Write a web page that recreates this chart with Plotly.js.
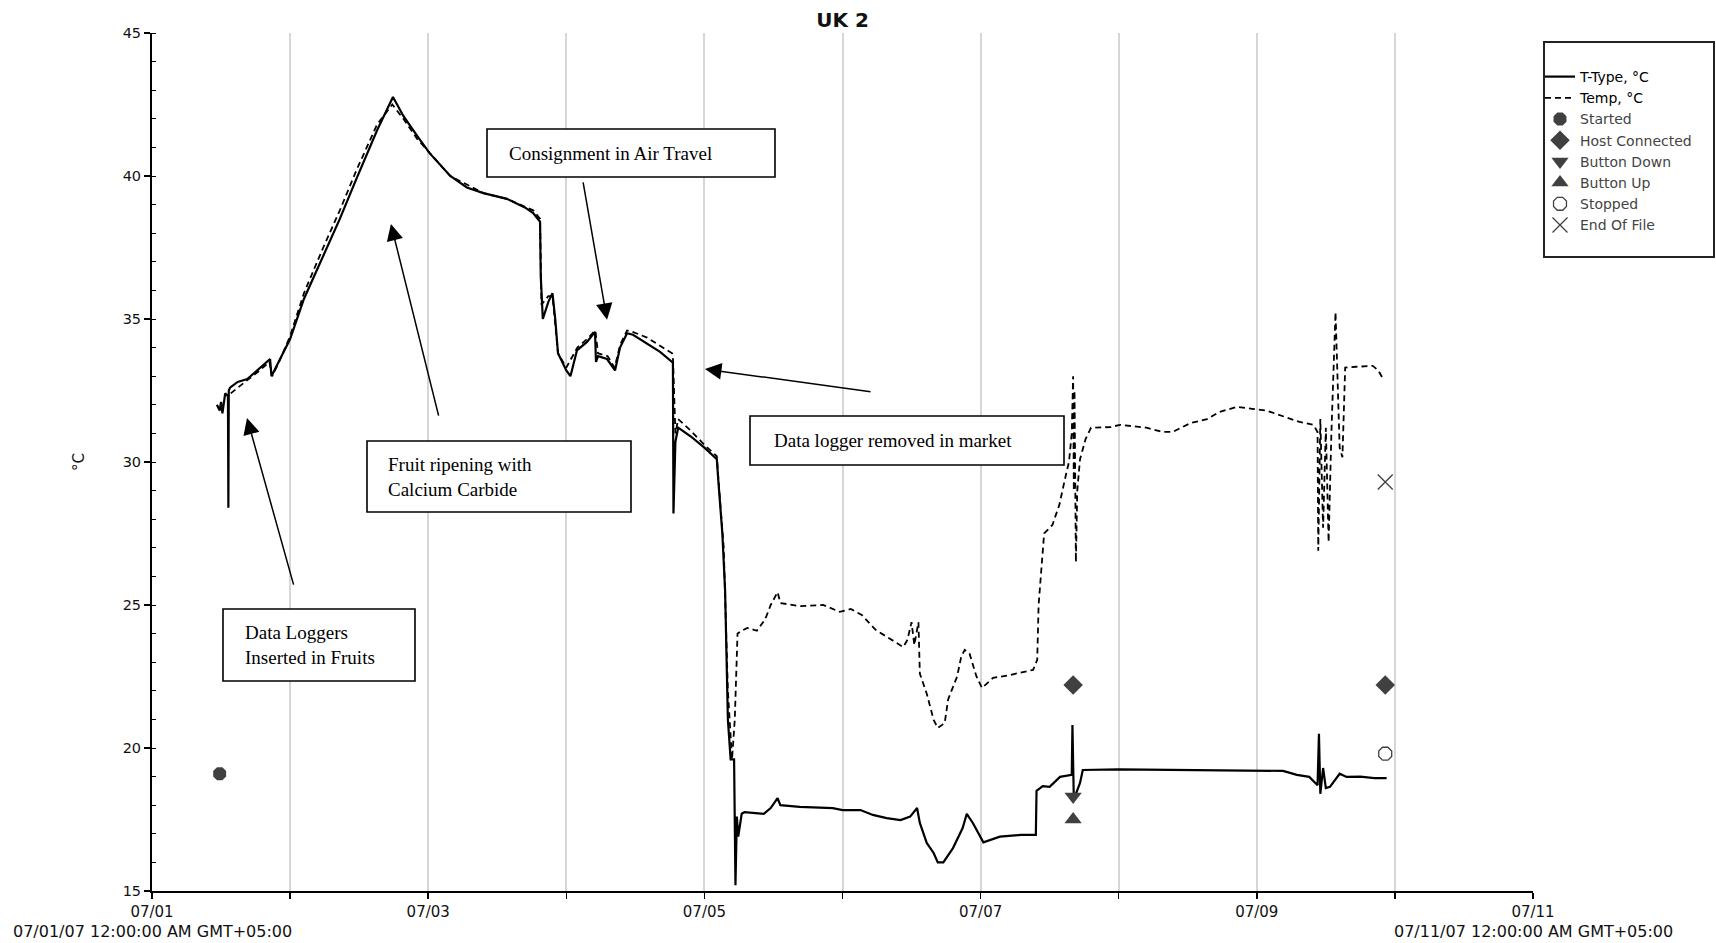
<!DOCTYPE html>
<html>
<head>
<meta charset="utf-8">
<script src="https://cdn.plot.ly/plotly-3.0.1.min.js"></script>
<style>
html,body{margin:0;padding:0;background:#fff;}
#chart{width:1716px;height:943px;}
</style>
</head>
<body>
<div id="chart"></div>
<script>
// ---- data (time in days after 07/01/07 00:00, values in °C) ----
const tTypeDays = [0.47,0.49,0.50,0.51,0.53,0.55,0.553,0.556,0.565,0.62,0.69,0.78,0.855,0.865,0.875,0.93,1.00,1.10,1.24,1.36,1.48,1.63,1.745,1.82,1.92,2.01,2.16,2.28,2.40,2.57,2.70,2.76,2.81,2.815,2.83,2.87,2.90,2.92,2.94,3.00,3.03,3.077,3.15,3.208,3.215,3.23,3.295,3.353,3.389,3.44,3.483,3.585,3.679,3.766,3.772,3.776,3.79,3.81,3.90,4.00,4.09,4.10,4.13,4.15,4.17,4.19,4.215,4.225,4.235,4.245,4.27,4.29,4.43,4.48,4.53,4.55,4.69,4.93,5.00,5.13,5.22,5.32,5.42,5.49,5.54,5.56,5.61,5.66,5.69,5.73,5.80,5.87,5.90,5.945,5.995,6.02,6.14,6.29,6.40,6.405,6.45,6.50,6.575,6.66,6.665,6.675,6.72,6.74,7.00,7.50,8.00,8.19,8.29,8.38,8.44,8.45,8.46,8.48,8.50,8.53,8.60,8.65,8.75,8.85,8.94];
const tTypeVals = [32.0,31.8,32.1,31.7,32.4,32.3,28.4,32.5,32.6,32.8,32.9,33.3,33.6,33.0,33.1,33.6,34.3,35.7,37.2,38.5,39.9,41.6,42.76,42.1,41.4,40.8,40.0,39.6,39.4,39.2,38.9,38.7,38.4,36.5,35.0,35.6,35.9,35.0,33.8,33.2,33.0,33.9,34.2,34.55,33.5,33.7,33.6,33.2,34.0,34.5,34.45,34.15,33.85,33.5,33.46,28.2,30.7,31.2,30.9,30.5,30.1,29.4,27.5,25.5,21.0,19.6,19.6,15.2,17.6,16.9,17.7,17.76,17.7,17.9,18.25,18.0,17.94,17.9,17.83,17.83,17.66,17.55,17.48,17.6,17.9,17.38,16.68,16.33,16.0,16.0,16.5,17.2,17.7,17.37,16.9,16.7,16.9,16.96,16.96,18.5,18.67,18.64,18.99,19.06,20.8,18.2,18.78,19.23,19.25,19.22,19.2,19.2,19.06,18.99,18.7,20.5,18.4,19.3,18.6,18.64,19.1,18.99,19.0,18.95,18.95];

const tempDays = [0.57,0.62,0.70,0.78,0.85,0.87,0.92,1.00,1.10,1.24,1.36,1.48,1.63,1.74,1.82,1.92,2.01,2.16,2.40,2.57,2.76,2.81,2.82,2.87,2.90,2.94,3.00,3.08,3.15,3.21,3.23,3.30,3.35,3.39,3.44,3.48,3.585,3.68,3.766,3.773,3.79,3.81,3.90,4.00,4.09,4.10,4.14,4.17,4.20,4.22,4.24,4.27,4.31,4.38,4.44,4.48,4.53,4.55,4.69,4.86,4.98,5.06,5.14,5.24,5.36,5.44,5.47,5.50,5.52,5.55,5.56,5.61,5.66,5.69,5.74,5.765,5.83,5.86,5.885,5.92,5.97,6.01,6.09,6.21,6.38,6.41,6.42,6.44,6.46,6.52,6.57,6.62,6.64,6.66,6.67,6.675,6.68,6.69,6.70,6.72,6.76,6.80,6.94,7.01,7.20,7.32,7.39,7.52,7.64,7.73,7.86,7.98,8.07,8.19,8.31,8.41,8.44,8.445,8.46,8.48,8.50,8.52,8.54,8.57,8.60,8.62,8.64,8.72,8.84,8.88,8.91];
const tempVals = [32.4,32.6,32.9,33.2,33.5,33.0,33.5,34.4,35.9,37.5,38.8,40.2,41.8,42.5,42.0,41.3,40.8,40.0,39.4,39.2,38.8,38.5,35.5,35.8,35.8,33.8,33.3,34.0,34.3,34.6,33.8,33.7,33.3,34.1,34.6,34.55,34.35,34.05,33.8,33.57,31.0,31.5,31.1,30.6,30.2,29.5,27.0,22.0,19.6,21.0,24.0,24.1,24.2,24.1,24.5,25.0,25.45,25.07,24.96,25.0,24.76,24.86,24.65,24.13,23.78,23.53,23.78,24.4,23.6,24.4,22.6,21.9,20.98,20.7,20.87,21.7,22.5,23.2,23.43,23.3,22.5,22.1,22.45,22.55,22.73,23.08,25.0,26.4,27.5,27.8,28.5,29.6,30.0,31.0,33.0,29.0,32.5,26.5,29.0,30.1,30.8,31.2,31.22,31.3,31.2,31.05,31.05,31.36,31.5,31.75,31.93,31.85,31.8,31.6,31.4,31.3,31.05,26.9,31.5,27.7,31.2,27.2,31.0,35.24,30.5,30.17,33.3,33.33,33.36,33.2,32.94];

const startedDay = [0.49],  startedVal = [19.1];
const hostDays = [6.67, 8.93], hostVals = [22.2, 22.2];
const btnDownDay = [6.67], btnDownVal = [18.3];
const btnUpDay = [6.67],   btnUpVal = [17.5];
const stoppedDay = [8.93], stoppedVal = [19.8];
const eofDay = [8.93],     eofVal = [29.3];

const seriesNames = ['T-Type, °C','Temp, °C','Started','Host Connected','Button Down','Button Up','Stopped','End Of File'];
const tickDays = [0,2,4,6,8,10];
const tickLabels = ['07/01','07/03','07/05','07/07','07/09','07/11'];
const chartTitle = 'UK 2';
const rangeLabel = ['07/01/07 12:00:00 AM GMT+05:00','07/11/07 12:00:00 AM GMT+05:00'];
const noteTexts = ['Data Loggers<br>Inserted in Fruits','Fruit ripening with<br>Calcium Carbide','Consignment in Air Travel','Data logger removed in market'];

// ---- helpers ----
const T0 = Date.UTC(2007,6,1);
function toDate(d){ return new Date(T0 + Math.round(d*86400000)).toISOString().slice(0,19).replace('T',' '); }
const dates = a => a.map(toDate);
// plot area in page pixels
const PL=152, PR=1533, PT=33, PB=891;
const px = x => (x-PL)/(PR-PL);
const py = y => (PB-y)/(PB-PT);
const MK = '#404040';

const traces = [
  {x:dates(tTypeDays), y:tTypeVals, mode:'lines', name:'<span style="color:#000">'+seriesNames[0]+'</span>', line:{color:'#000',width:2.2}},
  {x:dates(tempDays), y:tempVals, mode:'lines', name:'<span style="color:#000">'+seriesNames[1]+'</span>', line:{color:'#000',width:1.8,dash:'6px,4px'}},
  {x:dates(startedDay), y:startedVal, mode:'markers', name:seriesNames[2], marker:{symbol:'octagon',size:14,color:MK}},
  {x:dates(hostDays), y:hostVals, mode:'markers', name:seriesNames[3], marker:{symbol:'diamond',size:15,color:MK}},
  {x:dates(btnDownDay), y:btnDownVal, mode:'markers', name:seriesNames[4], marker:{symbol:'triangle-down',size:15,color:MK}},
  {x:dates(btnUpDay), y:btnUpVal, mode:'markers', name:seriesNames[5], marker:{symbol:'triangle-up',size:15,color:MK}},
  {x:dates(stoppedDay), y:stoppedVal, mode:'markers', name:seriesNames[6], marker:{symbol:'octagon-open',size:14,color:MK,line:{width:1.3,color:MK}}},
  {x:dates(eofDay), y:eofVal, mode:'markers', name:seriesNames[7], marker:{symbol:'x-thin-open',size:15,color:MK,line:{width:1.3,color:MK}}}
];

const boxes = [
  {x0:223,x1:415,y0:609,y1:681, tx:243},
  {x0:367,x1:631,y0:441,y1:512, tx:386},
  {x0:487,x1:775,y0:129,y1:177, tx:507},
  {x0:750,x1:1064,y0:416,y1:465, tx:772}
];
const shapes = boxes.map(b => ({type:'rect', xref:'paper', yref:'paper', x0:px(b.x0), x1:px(b.x1), y0:py(b.y1), y1:py(b.y0), line:{color:'#000',width:1.6}, fillcolor:'#fff', layer:'above'}));
// legend frame
shapes.push({type:'rect', xref:'paper', yref:'paper', x0:px(1544), x1:px(1714), y0:py(257), y1:py(42), line:{color:'#222',width:2}, fillcolor:'rgba(0,0,0,0)', layer:'above'});

const annotations = boxes.map((b,i) => ({xref:'paper', yref:'paper', x:px(b.tx), y:py((b.y0+b.y1)/2), xanchor:'left', yanchor:'middle', align:'left', showarrow:false, text:noteTexts[i], font:{family:'Liberation Serif, Times New Roman, serif', size:19, color:'#000'}}));

// arrows: head (x,y) and tail (ax,ay) in data units
const arrows = [
  {hx:0.688, hy:31.54, tx:1.028, ty:25.66},
  {hx:1.73, hy:38.32, tx:2.078, ty:31.57},
  {hx:3.295, hy:34.97, tx:3.12, ty:39.83},
  {hx:4.004, hy:33.25, tx:5.214, ty:32.45}
];
arrows.forEach(a => annotations.push({xref:'x', yref:'y', axref:'x', ayref:'y', x:toDate(a.hx), y:a.hy, ax:toDate(a.tx), ay:a.ty, text:'', showarrow:true, arrowhead:2, arrowsize:2.2, arrowwidth:1.5, arrowcolor:'#000', standoff:0, startstandoff:0}));

rangeLabel.forEach((t,i) => annotations.push({xref:'x', yref:'paper', x:toDate(tickDays[i===0?0:tickDays.length-1]), y:py(931), xanchor:'center', yanchor:'middle', showarrow:false, text:t, font:{family:'DejaVu Sans', size:16, color:'#111'}}));

const layout = {
  width:1716, height:943,
  margin:{l:PL, r:1716-PR, t:PT, b:943-PB},
  paper_bgcolor:'#fff', plot_bgcolor:'#fff',
  font:{family:'DejaVu Sans, Verdana, sans-serif', color:'#111'},
  title:{text:'<b>'+chartTitle+'</b>', x:0.5, xref:'paper', xanchor:'center', y:1-20/943, yref:'container', yanchor:'middle', font:{family:'DejaVu Sans, sans-serif', size:20, color:'#111'}},
  xaxis:{
    type:'date', range:[toDate(0), toDate(10)],
    tickvals:dates(tickDays), ticktext:tickLabels,
    ticks:'outside', ticklen:6, tickwidth:1.5, tickcolor:'#000',
    showline:true, linecolor:'#000', linewidth:2,
    showgrid:true, gridcolor:'#d6d6d6', gridwidth:2, zeroline:false,
    tickfont:{family:'DejaVu Sans', size:15, color:'#111'},
    minor:{dtick:86400000, tick0:toDate(0), ticks:'outside', ticklen:6, tickwidth:1.5, tickcolor:'#000', showgrid:true, gridcolor:'#d6d6d6', gridwidth:2}
  },
  yaxis:{
    range:[15,45], dtick:5, tick0:15,
    ticks:'outside', ticklen:6, tickwidth:1.5, tickcolor:'#000',
    showline:true, linecolor:'#000', linewidth:2, showgrid:false, zeroline:false,
    tickfont:{family:'DejaVu Sans', size:14.5, color:'#111'},
    minor:{dtick:1, ticks:'inside', ticklen:4, tickwidth:1, tickcolor:'#000'},
    title:{text:'°C', standoff:34, font:{family:'DejaVu Sans', size:15, color:'#111'}}
  },
  showlegend:true,
  legend:{x:px(1540), xanchor:'left', y:py(61), yanchor:'top', bgcolor:'rgba(0,0,0,0)', borderwidth:0,
    font:{family:'DejaVu Sans, sans-serif', size:14, color:'#444'}, itemwidth:30, tracegroupgap:0},
  shapes:shapes,
  annotations:annotations
};

Plotly.newPlot('chart', traces, layout, {displayModeBar:false, staticPlot:true});
</script>
</body>
</html>
